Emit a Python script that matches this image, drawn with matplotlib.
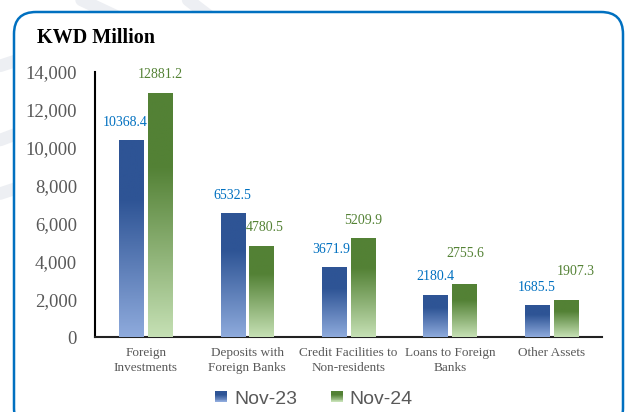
import numpy as np
import matplotlib
matplotlib.use("Agg")
import matplotlib.pyplot as plt
from matplotlib.patches import FancyBboxPatch, Rectangle
from matplotlib.transforms import IdentityTransform
from matplotlib.legend_handler import HandlerBase
from matplotlib.colors import to_rgb

categories = ["Foreign\nInvestments", "Deposits with\nForeign Banks",
              "Credit Facilities to\nNon-residents", "Loans to Foreign\nBanks",
              "Other Assets"]
nov23 = [10368.4, 6532.5, 3671.9, 2180.4, 1685.5]
nov24 = [12881.2, 4780.5, 5209.9, 2755.6, 1907.3]
series_names = ["Nov-23", "Nov-24"]
yticks = [0, 2000, 4000, 6000, 8000, 10000, 12000, 14000]
ytick_labels = ["0", "2,000", "4,000", "6,000", "8,000", "10,000", "12,000", "14,000"]

# label placement offsets in pixels (dx, dy of label centre from bar top centre)
off23 = [(-6, 18), (0, 18), (-3, 18), (0, 19), (0, 18)]
off24 = [(0, 19), (3, 19), (0, 18), (1, 31), (10, 29)]

W, H = 627, 412
fig = plt.figure(figsize=(W / 100, H / 100), dpi=100)
fig.patch.set_facecolor("white")

# faint watermark strokes
wm = dict(color="#EDEFF3", lw=9, solid_capstyle="round", zorder=0)
fig.add_artist(plt.Line2D([0.0, 0.06], [0.84, 0.87], transform=fig.transFigure, **wm))
fig.add_artist(plt.Line2D([0.0, 0.07], [0.66, 0.70], transform=fig.transFigure, **wm))
fig.add_artist(plt.Line2D([0.30, 0.36], [1.0, 0.93], transform=fig.transFigure, **wm))
fig.add_artist(plt.Line2D([0.13, 0.20], [1.0, 0.95], transform=fig.transFigure, **wm))
fig.add_artist(plt.Line2D([0.0, 0.06], [0.53, 0.56], transform=fig.transFigure, **wm))

# rounded border box (pixel coordinates)
box = FancyBboxPatch((14, H - 430), 609, 430 - 12,
                     boxstyle="round,pad=0,rounding_size=22",
                     transform=IdentityTransform(), facecolor="white",
                     edgecolor="#0070C0", linewidth=1.8, zorder=1)
fig.add_artist(box)

ax = fig.add_axes([95 / W, (H - 337) / H, (602 - 95) / W, (337 - 72) / H])
ax.set_facecolor("none")
ax.set_zorder(2)

blue_dark, blue_light = "#2E5495", "#8EAADC"
green_dark, green_light = "#538135", "#C5E0B4"

def grad_img(dark, light, n=100, hold=0.3):
    d = np.array(to_rgb(dark)); l = np.array(to_rgb(light))
    t = np.linspace(0, 1, n)  # 0 = top
    f = np.clip((t - hold) / (1 - hold), 0, 1)[:, None]
    return (d * (1 - f) + l * f)[:, None, :]

x = np.arange(len(categories))
bw = 0.237
off = 0.142
for vals, xo, dark, light, lblc, offs in [(nov23, -off, blue_dark, blue_light, "#0070C0", off23),
                                          (nov24, off, green_dark, green_light, "#548235", off24)]:
    img = grad_img(dark, light)
    bars = ax.bar(x + xo, vals, width=bw, color="none", edgecolor="none", zorder=3)
    for b, v, (dx, dy) in zip(bars, vals, offs):
        x0 = b.get_x()
        ax.imshow(img, extent=[x0, x0 + bw, 0, v], aspect="auto", zorder=3,
                  interpolation="bilinear", origin="upper")
        ax.annotate(f"{v:.1f}", (x0 + bw / 2, v), xytext=(dx, dy),
                    textcoords="offset pixels", ha="center", va="center",
                    fontsize=10, color=lblc, family="Liberation Serif")

ax.set_xlim(-0.5, len(categories) - 0.5)
ax.set_ylim(0, 14000)
ax.set_yticks(yticks)
ax.set_yticklabels(ytick_labels, family="Liberation Serif", fontsize=13.5, color="#595959")
ax.set_xticks(x)
ax.set_xticklabels(categories, family="Liberation Serif", fontsize=9.5, color="#595959",
                   linespacing=1.35, va="top")
ax.tick_params(axis="y", length=0, pad=13)
ax.tick_params(axis="x", length=0, pad=7)
for s in ["top", "right"]:
    ax.spines[s].set_visible(False)
ax.spines["left"].set_color("black")
ax.spines["left"].set_linewidth(1.5)
ax.spines["bottom"].set_color("#222222")
ax.spines["bottom"].set_linewidth(1.5)

fig.text(37 / W, 1 - 38 / H, "KWD Million", family="Liberation Serif", fontweight="bold",
         fontsize=14.5, color="black", va="center", ha="left")

class GradHandler(HandlerBase):
    def __init__(self, dark, light):
        super().__init__()
        self.dark, self.light = dark, light
    def create_artists(self, legend, orig_handle, xdescent, ydescent, width, height,
                       fontsize, trans):
        arts = []
        n = 12
        img = grad_img(self.dark, self.light, n=n, hold=0.3)[:, 0, :]
        side = width
        x0 = -xdescent
        ybase = -ydescent + (height - side) / 2
        for i in range(n):
            y0 = ybase + side * (1 - (i + 1) / n)
            r = Rectangle((x0, y0), side, side / n + 0.05, facecolor=img[i],
                          edgecolor="none", transform=trans)
            arts.append(r)
        return arts

h1 = Rectangle((0, 0), 1, 1)
h2 = Rectangle((0, 0), 1, 1)
leg = fig.legend([h1, h2], series_names, loc="center", bbox_to_anchor=(314 / W, 1 - 399 / H),
                 ncol=2, frameon=False, prop={"family": "Liberation Sans", "size": 14},
                 labelcolor="#595959", handlelength=0.6, handleheight=0.6, handletextpad=0.36,
                 columnspacing=1.75, borderpad=0, borderaxespad=0,
                 handler_map={h1: GradHandler(blue_dark, blue_light),
                              h2: GradHandler(green_dark, green_light)})

fig.savefig("out.png", dpi=100)
